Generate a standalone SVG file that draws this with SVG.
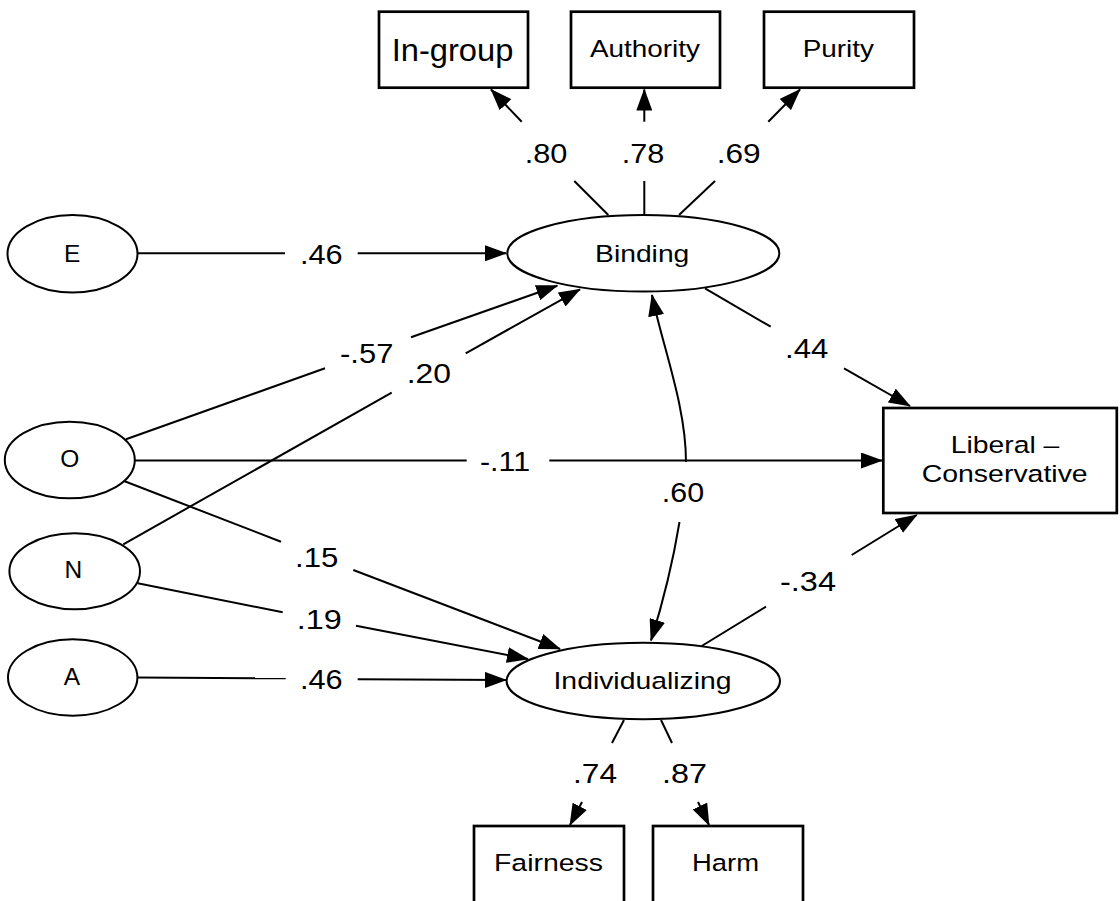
<svg xmlns="http://www.w3.org/2000/svg" width="1120" height="901" viewBox="0 0 1120 901">
<defs>
<marker id="ah" markerUnits="userSpaceOnUse" markerWidth="22" markerHeight="16" viewBox="0 0 22 16" refX="21" refY="8" orient="auto">
<path d="M0,0 L22,8 L0,16 z" fill="#000"/>
</marker>
<style>
.box{fill:#fff;stroke:#000;stroke-width:2.7}
.ell{fill:#fff;stroke:#000;stroke-width:2}
.t{font-family:"Liberation Sans",Arial,sans-serif;font-size:24.5px;fill:#000;text-anchor:middle}
.n{font-family:"Liberation Sans",Arial,sans-serif;font-size:27.5px;fill:#000;text-anchor:middle}
.c{fill:none;stroke:#000;stroke-width:2}
.a{fill:none;stroke:#000;stroke-width:2;marker-end:url(#ah)}
</style>
</defs>
<rect width="1120" height="901" fill="#fff"/>

<g id="connectors">
<line class="c" x1="608.3" y1="215" x2="574.3" y2="181"/>
<line class="a" x1="521.7" y1="121.7" x2="491" y2="89.5"/>
<line class="c" x1="644.3" y1="215" x2="644.3" y2="181"/>
<line class="a" x1="644.3" y1="121.7" x2="644.3" y2="89.5"/>
<line class="c" x1="679" y1="215" x2="715" y2="181"/>
<line class="a" x1="768.3" y1="121.7" x2="800" y2="89.5"/>
<line class="c" x1="137.7" y1="253.3" x2="285" y2="253.3"/>
<line class="a" x1="357.7" y1="253.3" x2="506" y2="253.3"/>
<line class="c" x1="126" y1="439.3" x2="325" y2="368.3"/>
<line class="a" x1="411" y1="337.3" x2="557.3" y2="285.7"/>
<line class="c" x1="123.3" y1="544.3" x2="391.7" y2="392.7"/>
<line class="a" x1="465.7" y1="353.3" x2="580" y2="289.3"/>
<line class="c" x1="135" y1="460.5" x2="466.7" y2="460.5"/>
<line class="a" x1="549.3" y1="460.5" x2="882" y2="460.5"/>
<line class="c" x1="705" y1="288.3" x2="770.7" y2="326.7"/>
<line class="a" x1="844" y1="368.3" x2="910" y2="406"/>
<line class="c" x1="701.7" y1="646" x2="766" y2="606.7"/>
<line class="a" x1="851.7" y1="555" x2="916.7" y2="515"/>
<path class="a" d="M686,462 C686,405 662,345 652,295"/>
<path class="a" d="M679.5,522 Q670,580 651,640.5"/>
<line class="c" x1="124" y1="481" x2="281" y2="541.7"/>
<line class="a" x1="353.3" y1="570" x2="560" y2="649"/>
<line class="c" x1="137.7" y1="583.3" x2="282.7" y2="612.3"/>
<line class="a" x1="356" y1="625.7" x2="528" y2="659"/>
<line class="c" x1="137.3" y1="677.5" x2="285.7" y2="678.3"/>
<line class="a" x1="357.7" y1="679.3" x2="506" y2="680"/>
<line class="c" x1="624" y1="720" x2="612" y2="743"/>
<line class="a" x1="582" y1="802" x2="570" y2="825"/>
<line class="c" x1="661" y1="720" x2="672" y2="743"/>
<line class="a" x1="698" y1="802" x2="709" y2="825"/>
</g>

<g id="labels">
<text class="n" x="546" y="163.3" textLength="42.7" lengthAdjust="spacingAndGlyphs">.80</text>
<text class="n" x="643" y="163.3" textLength="42.6" lengthAdjust="spacingAndGlyphs">.78</text>
<text class="n" x="738.7" y="163.3" textLength="44" lengthAdjust="spacingAndGlyphs">.69</text>
<text class="n" x="321.3" y="264" textLength="42.7" lengthAdjust="spacingAndGlyphs">.46</text>
<text class="n" x="366.7" y="363.3" textLength="53.3" lengthAdjust="spacingAndGlyphs">-.57</text>
<text class="n" x="428.8" y="383.3" textLength="44.3" lengthAdjust="spacingAndGlyphs">.20</text>
<text class="n" x="806.7" y="358.3" textLength="43.3" lengthAdjust="spacingAndGlyphs">.44</text>
<text class="n" x="505" y="470.5" textLength="50" lengthAdjust="spacingAndGlyphs">-.11</text>
<text class="n" x="683" y="501.7" textLength="42.3" lengthAdjust="spacingAndGlyphs">.60</text>
<text class="n" x="316.7" y="566.7" textLength="43.3" lengthAdjust="spacingAndGlyphs">.15</text>
<text class="n" x="319.2" y="629.3" textLength="45" lengthAdjust="spacingAndGlyphs">.19</text>
<text class="n" x="321.3" y="689.3" textLength="42.7" lengthAdjust="spacingAndGlyphs">.46</text>
<text class="n" x="808" y="591" textLength="56" lengthAdjust="spacingAndGlyphs">-.34</text>
<text class="n" x="595" y="783.3" textLength="44" lengthAdjust="spacingAndGlyphs">.74</text>
<text class="n" x="684.5" y="783.3" textLength="45" lengthAdjust="spacingAndGlyphs">.87</text>
</g>

<g id="ingroup">
<rect class="box" x="379" y="11.7" width="149" height="76"/>
<text class="t" x="452.5" y="61" style="font-size:31px" textLength="121.7" lengthAdjust="spacingAndGlyphs">In-group</text>
</g>
<g id="authority">
<rect class="box" x="571" y="11.7" width="149" height="76"/>
<text class="t" x="645" y="56.7" textLength="110" lengthAdjust="spacingAndGlyphs">Authority</text>
</g>
<g id="purity">
<rect class="box" x="764" y="11.7" width="150" height="76"/>
<text class="t" x="838.3" y="56.7" textLength="71.3" lengthAdjust="spacingAndGlyphs">Purity</text>
</g>
<g id="binding">
<ellipse class="ell" cx="643.3" cy="253.3" rx="136" ry="38.3"/>
<text class="t" x="642.2" y="261.7" textLength="94.3" lengthAdjust="spacingAndGlyphs">Binding</text>
</g>
<g id="E">
<ellipse class="ell" cx="72.5" cy="253.7" rx="65" ry="38.7"/>
<text class="t" x="72.2" y="261.7">E</text>
</g>
<g id="O">
<ellipse class="ell" cx="69.8" cy="460" rx="65" ry="38.3"/>
<text class="t" x="69.7" y="466.7">O</text>
</g>
<g id="N">
<ellipse class="ell" cx="74.7" cy="571.3" rx="65.3" ry="38"/>
<text class="t" x="73.3" y="578.3">N</text>
</g>
<g id="A">
<ellipse class="ell" cx="72.7" cy="677.5" rx="64.7" ry="38.2"/>
<text class="t" x="71.8" y="685">A</text>
</g>
<g id="libcon">
<rect class="box" x="883.3" y="408" width="233.5" height="105"/>
<text class="t" x="1005" y="452.7" textLength="108.7" lengthAdjust="spacingAndGlyphs">Liberal –</text>
<text class="t" x="1004.7" y="481.7" textLength="166" lengthAdjust="spacingAndGlyphs">Conservative</text>
</g>
<g id="individualizing">
<ellipse class="ell" cx="643.3" cy="681" rx="136.7" ry="38.3"/>
<text class="t" x="642.5" y="689" textLength="178" lengthAdjust="spacingAndGlyphs">Individualizing</text>
</g>
<g id="fairness">
<rect class="box" x="474" y="826" width="150" height="80"/>
<text class="t" x="548.5" y="871" textLength="109" lengthAdjust="spacingAndGlyphs">Fairness</text>
</g>
<g id="harm">
<rect class="box" x="653" y="826" width="150" height="80"/>
<text class="t" x="725.5" y="871" textLength="67" lengthAdjust="spacingAndGlyphs">Harm</text>
</g>
</svg>
